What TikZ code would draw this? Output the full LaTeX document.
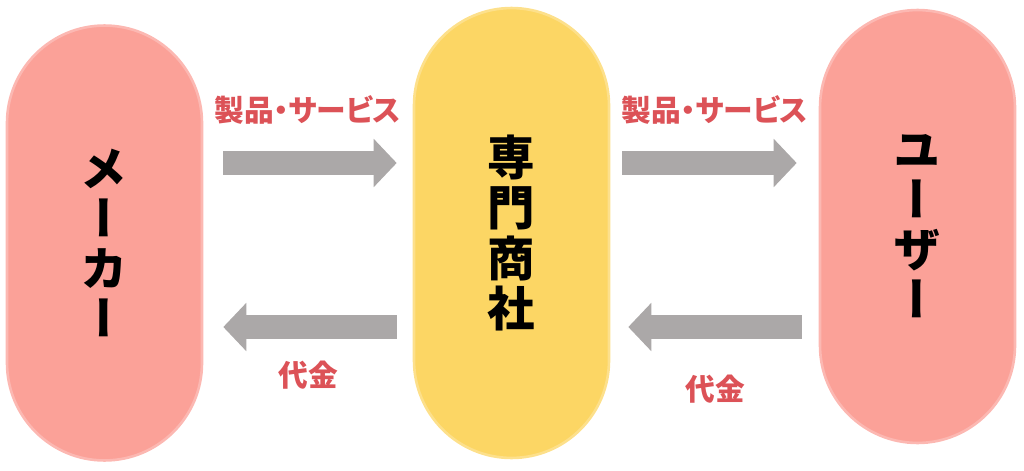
\documentclass[tikz,border=0pt]{standalone}
\usepackage{fontspec}
\usepackage{tikz}
\usetikzlibrary{arrows.meta,calc,positioning}
\newfontfamily\jp{Noto Sans CJK JP}[RawFeature=+palt]
\newfontfamily\jpvert{Noto Sans CJK JP}[RawFeature=+vert]
\definecolor{PillPink}{HTML}{FBA198}
\definecolor{PillGold}{HTML}{FCD664}
\definecolor{FlowGray}{HTML}{ABA8A8}
\definecolor{TagRed}{HTML}{DC5257}

\begin{document}
\begin{tikzpicture}[x=0.02cm,y=-0.02cm,
          pill/.style={rectangle,rounded corners=1.95cm,minimum width=3.9cm,
            inner sep=0pt,align=center,line width=1.5pt,
            font=\jpvert\bfseries\fontsize{27}{28.5}\selectfont},
          flow/.style={-{Triangle[length=0.46cm,width=0.94cm]},
            line width=0.47cm,FlowGray},
          tag/.style={text=TagRed,font=\jp\bfseries\fontsize{16.9}{19}\selectfont}]
        \useasboundingbox (0,0) rectangle (1024,470);

        \node[pill,fill=PillPink,draw=PillPink!75,minimum height=8.7cm]
          (maker) at (104.5,243) {メ\\ー\\カ\\ー};
        \node[pill,fill=PillGold,draw=PillGold!75,minimum height=9.0cm]
          (trader) at (511.5,233) {専\\門\\商\\社};
        \node[pill,fill=PillPink,draw=PillPink!75,minimum height=8.66cm]
          (user) at (917.5,226.5) {ユ\\ー\\ザ\\ー};

        \coordinate (goods) at (0,163);
        \coordinate (pay) at (0,327);

        % goods go right, money comes back left
        \draw[flow,shorten <=0.4cm,shorten >=0.32cm]
          (maker.east |- goods) -- (trader.west |- goods);
        \draw[flow,shorten <=0.24cm,shorten >=0.44cm]
          (trader.east |- goods) -- (user.west |- goods);
        \draw[flow,shorten <=0.32cm,shorten >=0.4cm]
          (trader.west |- pay) -- (maker.east |- pay);
        \draw[flow,shorten <=0.34cm,shorten >=0.36cm]
          (user.west |- pay) -- (trader.east |- pay);

        \node[tag] (goodsleft) at (308,110) {製品・サービス};
        \node[tag] (goodsright) at (715,110) {製品・サービス};
        \node[tag] (payleft) at (308,375) {代金};
        \node[tag] (payright) at (715,389) {代金};
      \end{tikzpicture}
\end{document}
